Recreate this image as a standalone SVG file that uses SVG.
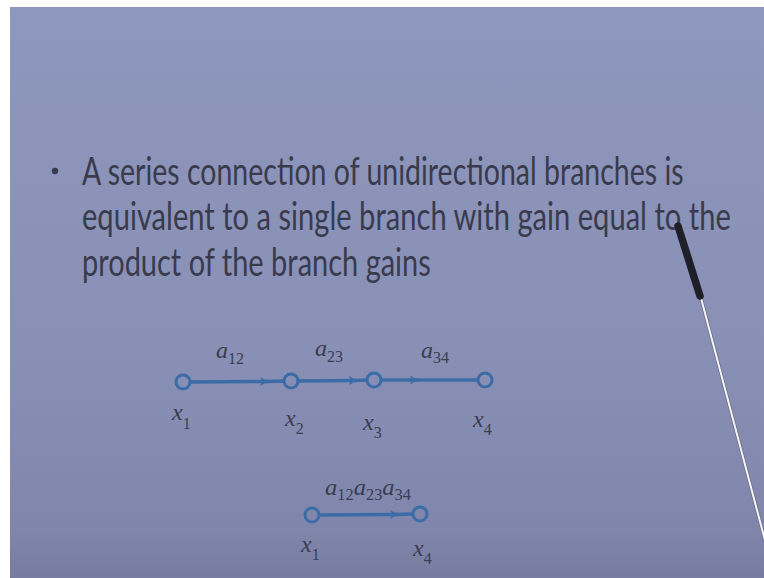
<svg xmlns="http://www.w3.org/2000/svg" width="764" height="578" viewBox="0 0 764 578">
  <defs>
    <linearGradient id="bg" x1="0" y1="0" x2="0" y2="1">
      <stop offset="0" stop-color="#8e97bd"/>
      <stop offset="0.6" stop-color="#8990b6"/>
      <stop offset="0.92" stop-color="#8086ab"/>
      <stop offset="1" stop-color="#767b9f"/>
    </linearGradient>
    <marker id="arr" viewBox="0 0 8 9" refX="8" refY="4.5" markerWidth="8" markerHeight="9" markerUnits="userSpaceOnUse" orient="auto">
      <path d="M0,0 L8,4.5 L0,9 L2,4.5 z" fill="#3c6ca6"/>
    </marker>
    <style>
      .txt { font-family: "Lato", "Liberation Sans", sans-serif; font-size: 38px; fill: #393b4d; }
      .node { fill: none; stroke: #3c6ca6; stroke-width: 3; }
      .edge { fill: none; stroke: #3c6ca6; stroke-width: 3.5; }
      .m { font-family: "Liberation Serif", "DejaVu Serif", serif; font-size: 24px; fill: #3a3c50; font-style: italic; }
      .s { font-size: 16px; font-style: normal; }
    </style>
  </defs>

  <rect x="0" y="0" width="764" height="578" fill="#ffffff"/>
  <rect x="10" y="7" width="754" height="571" fill="url(#bg)"/>

  <g id="bullet-text">
    <circle cx="55" cy="171" r="3.2" fill="#393b4d"/>
    <g transform="translate(82,0) scale(0.8,1)">
      <text class="txt" x="0" y="185" textLength="752" lengthAdjust="spacingAndGlyphs">A series connection of unidirectional branches is</text>
      <text class="txt" x="0" y="230" textLength="811" lengthAdjust="spacingAndGlyphs">equivalent to a single branch with gain equal to the</text>
      <text class="txt" x="0" y="276" textLength="436" lengthAdjust="spacingAndGlyphs">product of the branch gains</text>
    </g>
  </g>

  <g id="connectors">
    <path class="edge" d="M190,382 L268,381.5" marker-end="url(#arr)"/>
    <path class="edge" d="M266,381.5 L284,381"/>
    <path class="edge" d="M298,381 L357,380.5" marker-end="url(#arr)"/>
    <path class="edge" d="M355,380.5 L367,380"/>
    <path class="edge" d="M381,380 L418,380" marker-end="url(#arr)"/>
    <path class="edge" d="M416,380 L478,380"/>
    <path class="edge" d="M319,515 L398,514.5" marker-end="url(#arr)"/>
    <path class="edge" d="M396,514.5 L413,514"/>
  </g>

  <g id="edge-labels">
    <text class="m" x="216" y="358">a<tspan class="s" dy="6">12</tspan></text>
    <text class="m" x="315" y="356">a<tspan class="s" dy="6">23</tspan></text>
    <text class="m" x="421" y="358">a<tspan class="s" dy="5">34</tspan></text>
    <text class="m" x="325" y="495" textLength="86" lengthAdjust="spacingAndGlyphs">a<tspan class="s" dy="5">12</tspan><tspan dy="-5">a</tspan><tspan class="s" dy="5">23</tspan><tspan dy="-5">a</tspan><tspan class="s" dy="5">34</tspan></text>
  </g>

  <g id="node-x1">
    <circle class="node" cx="183" cy="382" r="7"/>
    <text class="m" x="172" y="420">x<tspan class="s" dy="9">1</tspan></text>
  </g>
  <g id="node-x2">
    <circle class="node" cx="291" cy="381" r="7"/>
    <text class="m" x="285" y="426">x<tspan class="s" dy="8">2</tspan></text>
  </g>
  <g id="node-x3">
    <circle class="node" cx="374" cy="380" r="7"/>
    <text class="m" x="363" y="430">x<tspan class="s" dy="8">3</tspan></text>
  </g>
  <g id="node-x4">
    <circle class="node" cx="485" cy="380" r="7"/>
    <text class="m" x="473" y="427">x<tspan class="s" dy="8">4</tspan></text>
  </g>
  <g id="node-x1-b">
    <circle class="node" cx="312" cy="515" r="7"/>
    <text class="m" x="301" y="552">x<tspan class="s" dy="8">1</tspan></text>
  </g>
  <g id="node-x4-b">
    <circle class="node" cx="420" cy="514" r="7"/>
    <text class="m" x="413" y="556">x<tspan class="s" dy="8">4</tspan></text>
  </g>

  <g id="pointer">
    <line x1="701" y1="298" x2="767" y2="548" stroke="#6b6f86" stroke-width="3.5"/>
    <line x1="701" y1="298" x2="767" y2="548" stroke="#f4f4f8" stroke-width="2"/>
    <line x1="678" y1="226" x2="700" y2="296" stroke="#1e1f27" stroke-width="7.5" stroke-linecap="round"/>
  </g>
</svg>
